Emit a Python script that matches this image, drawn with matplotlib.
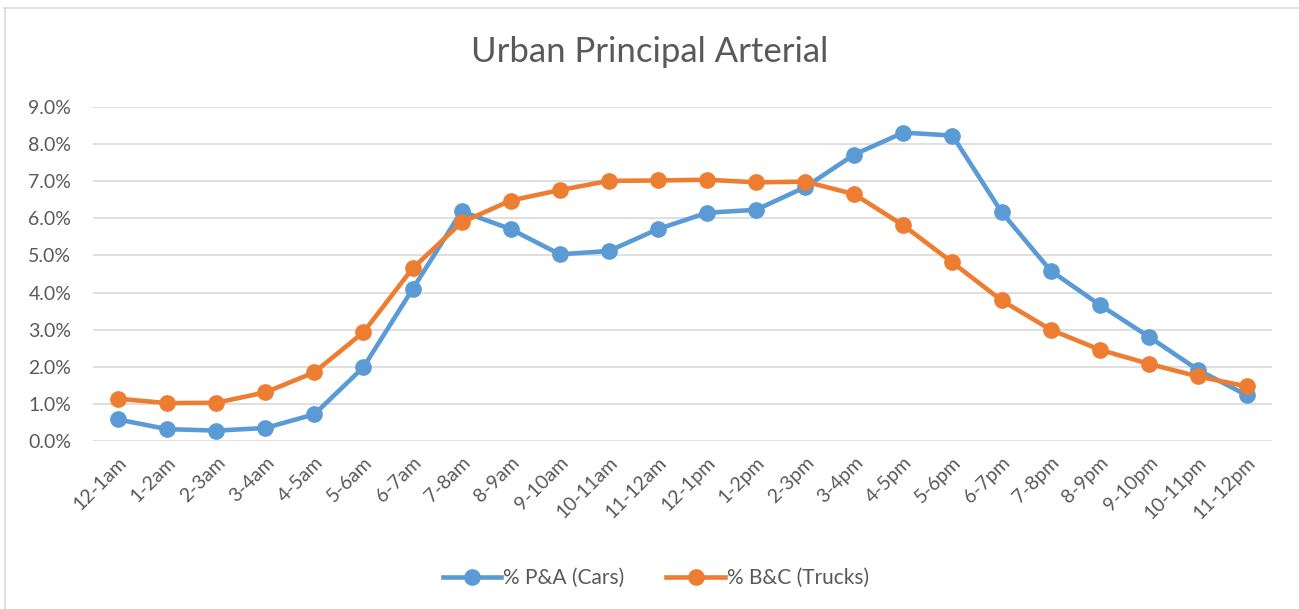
import matplotlib
matplotlib.use("Agg")
import matplotlib.pyplot as plt
from matplotlib.lines import Line2D
from matplotlib.ticker import PercentFormatter

# hourly share of daily traffic
hours = ["12-1am", "1-2am", "2-3am", "3-4am", "4-5am", "5-6am", "6-7am", "7-8am",
         "8-9am", "9-10am", "10-11am", "11-12am", "12-1pm", "1-2pm", "2-3pm", "3-4pm",
         "4-5pm", "5-6pm", "6-7pm", "7-8pm", "8-9pm", "9-10pm", "10-11pm", "11-12pm"]
cars = [0.58, 0.32, 0.28, 0.35, 0.72, 1.99, 4.09, 6.19, 5.71, 5.03, 5.12, 5.71,
        6.15, 6.23, 6.84, 7.72, 8.31, 8.23, 6.17, 4.59, 3.67, 2.81, 1.92, 1.23]
trucks = [1.14, 1.02, 1.03, 1.31, 1.85, 2.93, 4.65, 5.89, 6.48, 6.76, 7.01, 7.02,
          7.04, 6.97, 6.99, 6.65, 5.81, 4.81, 3.79, 3.00, 2.46, 2.08, 1.74, 1.47]

blue = "#5B9BD5"
orange = "#ED7D31"
grey_txt = "#595959"

plt.rcParams["font.family"] = ["Lato", "DejaVu Sans"]

fig = plt.figure(figsize=(12.99, 6.09), dpi=100)
ax = fig.add_axes([93.5 / 1299, 1 - 441 / 609, 1178 / 1299, 334 / 609])

x = list(range(len(hours)))
ax.plot(x, [v / 100 for v in cars], color=blue, lw=3.3, marker="o", ms=11,
        label="% P&A (Cars)", zorder=3)
ax.plot(x, [v / 100 for v in trucks], color=orange, lw=3.3, marker="o", ms=11,
        label="% B&C (Trucks)", zorder=4)

ax.set_xlim(-0.5, len(hours) - 0.5)
ax.set_ylim(0, 0.09)
ax.set_yticks([i / 100 for i in range(10)])
ax.yaxis.set_major_formatter(PercentFormatter(1.0, decimals=1))
ax.set_xticks(x)
ax.set_xticklabels(hours, rotation=45, ha="right", rotation_mode="anchor")
ax.tick_params(axis="both", length=0, colors=grey_txt, labelsize=14)
ax.tick_params(axis="y", pad=16)
ax.tick_params(axis="x", pad=9)
for lab in ax.get_xticklabels():
    lab.set_color(grey_txt)

ax.grid(axis="y", color="#D9D9D9", lw=1.2)
ax.set_axisbelow(True)
for s in ax.spines.values():
    s.set_visible(False)

fig.text(0.5, 1 - 52 / 609, "Urban Principal Arterial", ha="center", va="center",
         fontsize=25, color=grey_txt)

handles = [Line2D([], [], color=blue, lw=3.3, marker="o", ms=11),
           Line2D([], [], color=orange, lw=3.3, marker="o", ms=11)]
fig.legend(handles, ["% P&A (Cars)", "% B&C (Trucks)"], loc="center",
           bbox_to_anchor=(0.505, 1 - 578 / 609), ncol=2, frameon=False,
           fontsize=15, labelcolor=grey_txt, handlelength=2.8, handletextpad=0.1,
           columnspacing=2.0)

# chart frame (only top and left edges visible in the crop)
fig.add_artist(Line2D([4 / 1299, 1298 / 1299], [1 - 8 / 609, 1 - 8 / 609],
                      color="#D9D9D9", lw=1.2))
fig.add_artist(Line2D([5 / 1299, 5 / 1299], [0, 1 - 8 / 609],
                      color="#D9D9D9", lw=1.2))

fig.savefig("out.png", dpi=100)
